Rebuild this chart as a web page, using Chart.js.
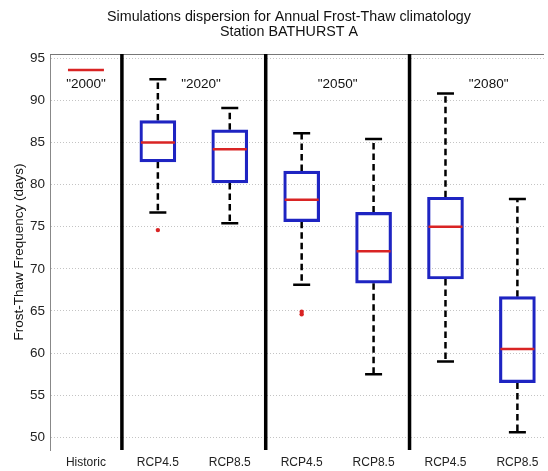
<!DOCTYPE html>
<html>
<head>
<meta charset="utf-8">
<script src="https://cdn.jsdelivr.net/npm/chart.js@4"></script>
<style>
  html, body { margin: 0; padding: 0; background: #fff; overflow: hidden; }
</style>
</head>
<body>
<canvas id="myChart" width="548" height="471"></canvas>
<script>
const categories = ["Historic", "RCP4.5", "RCP8.5", "RCP4.5", "RCP8.5", "RCP4.5", "RCP8.5"];
const boxPositions = [2, 3, 4, 5, 6, 7];
const whiskerLow = [76.7, 75.4, 68.1, 57.5, 59.0, 50.6];
const q1 = [82.7, 80.2, 75.6, 68.3, 68.8, 56.5];
const median = [85.0, 84.2, 78.2, 72.1, 75.0, 60.5];
const q3 = [87.6, 86.5, 81.6, 76.7, 78.5, 66.7];
const whiskerHigh = [92.5, 89.1, 86.1, 85.4, 90.8, 78.3];
const outlierX = [2, 4, 4];
const outlierY = [74.6, 64.6, 64.9];
const historicValue = 93.6;
const periodLabels = ['"2000"', '"2020"', '"2050"', '"2080"'];
const periodLabelX = [1, 2.6, 4.5, 6.6];
const periodLabelY = 91.9;
const separators = [1.5, 3.5, 5.5];
const yTicks = [50, 55, 60, 65, 70, 75, 80, 85, 90, 95];

const FONT = "'Liberation Sans', Arial, Helvetica, sans-serif";
const BLUE = "#1e24c2";
const RED = "#d92424";

const boxPlugin = {
    id: "boxExtras",
    beforeDatasetsDraw(chart) {
        const { ctx, chartArea, scales: { x, y } } = chart;
        ctx.save();
        // whiskers
        boxPositions.forEach((p, i) => {
            const px = x.getPixelForValue(p);
            ctx.strokeStyle = "#000";
            ctx.lineWidth = 2.5;
            ctx.setLineDash([6.5, 4]);
            ctx.beginPath();
            ctx.moveTo(px, y.getPixelForValue(q3[i]));
            ctx.lineTo(px, y.getPixelForValue(whiskerHigh[i]));
            ctx.moveTo(px, y.getPixelForValue(q1[i]));
            ctx.lineTo(px, y.getPixelForValue(whiskerLow[i]));
            ctx.stroke();
            ctx.setLineDash([]);
            ctx.beginPath();
            [whiskerHigh[i], whiskerLow[i]].forEach((v) => {
                const py = y.getPixelForValue(v);
                ctx.moveTo(px - 8.5, py);
                ctx.lineTo(px + 8.5, py);
            });
            ctx.stroke();
        });
        // top frame line
        ctx.strokeStyle = "#777";
        ctx.lineWidth = 1;
        ctx.beginPath();
        ctx.moveTo(chartArea.left, chartArea.top + 0.5);
        ctx.lineTo(chartArea.right, chartArea.top + 0.5);
        ctx.stroke();
        // group separators
        ctx.strokeStyle = "#000";
        ctx.lineWidth = 3.5;
        ctx.beginPath();
        separators.forEach((s) => {
            const px = x.getPixelForValue(s);
            ctx.moveTo(px, chartArea.top);
            ctx.lineTo(px, chartArea.bottom);
        });
        ctx.stroke();
        ctx.restore();
    },
    afterDatasetsDraw(chart) {
        const { ctx, scales: { x, y } } = chart;
        ctx.save();
        ctx.strokeStyle = RED;
        ctx.lineWidth = 2.5;
        ctx.beginPath();
        boxPositions.forEach((p, i) => {
            const px = x.getPixelForValue(p);
            const py = y.getPixelForValue(median[i]);
            ctx.moveTo(px - 17, py);
            ctx.lineTo(px + 17, py);
        });
        // historic value
        const hy = y.getPixelForValue(historicValue);
        ctx.moveTo(x.getPixelForValue(0.75), hy);
        ctx.lineTo(x.getPixelForValue(1.25), hy);
        ctx.stroke();

        ctx.fillStyle = "#111";
        ctx.font = "13.5px " + FONT;
        ctx.textAlign = "center";
        ctx.textBaseline = "middle";
        periodLabels.forEach((t, i) => {
            ctx.fillText(t, x.getPixelForValue(periodLabelX[i]), y.getPixelForValue(periodLabelY));
        });

        // title
        ctx.font = "14.3px " + FONT;
        ctx.fillText("Simulations dispersion for Annual Frost-Thaw climatology", 289, 17);
        ctx.fillText("Station BATHURST A", 289, 32);
        ctx.restore();
    },
};

new Chart(document.getElementById("myChart"), {
    type: "bar",
    data: {
        datasets: [
            {
                type: "bar",
                data: boxPositions.map((p, i) => ({ x: p, y: [q1[i], q3[i]] })),
                backgroundColor: "rgba(255,255,255,0)",
                borderColor: BLUE,
                borderWidth: 2.5,
                borderSkipped: false,
                barThickness: 36,
            },
            {
                type: "scatter",
                data: outlierX.map((v, i) => ({ x: v, y: outlierY[i] })),
                pointRadius: 2.2,
                pointBackgroundColor: RED,
                pointBorderColor: RED,
                pointBorderWidth: 0,
            },
        ],
    },
    options: {
        responsive: false,
        animation: false,
        events: [],
        layout: { padding: { top: 54, right: 0, left: 0, bottom: 0 } },
        plugins: {
            legend: { display: false },
            tooltip: { enabled: false },
        },
        scales: {
            x: {
                type: "linear",
                offset: false,
                min: 0.5,
                max: 7.37,
                afterBuildTicks(scale) {
                    scale.ticks = categories.map((c, i) => ({ value: i + 1 }));
                },
                afterFit(scale) {
                    scale.height = 21;
                },
                ticks: {
                    autoSkip: false,
                    maxRotation: 0,
                    padding: 5,
                    color: "#222",
                    font: { family: FONT, size: 12 },
                    callback: (v) => categories[Math.round(v) - 1],
                },
                grid: { display: false, drawTicks: false },
                border: { display: false },
            },
            y: {
                min: 48.5,
                max: 95.5,
                afterBuildTicks(scale) {
                    scale.ticks = yTicks.map((v) => ({ value: v }));
                },
                afterFit(scale) {
                    scale.width = 50;
                },
                ticks: {
                    padding: 5,
                    color: "#222",
                    font: { family: FONT, size: 13.5 },
                },
                grid: {
                    color: "#c4c4c4",
                    lineWidth: 1,
                    drawTicks: false,
                },
                border: { display: true, color: "#888", width: 1, dash: [1, 2] },
                title: {
                    display: true,
                    text: "Frost-Thaw Frequency (days)",
                    color: "#111",
                    font: { family: FONT, size: 13.5 },
                    padding: { top: 11, bottom: 0 },
                },
            },
        },
    },
    plugins: [boxPlugin],
});
</script>
</body>
</html>
